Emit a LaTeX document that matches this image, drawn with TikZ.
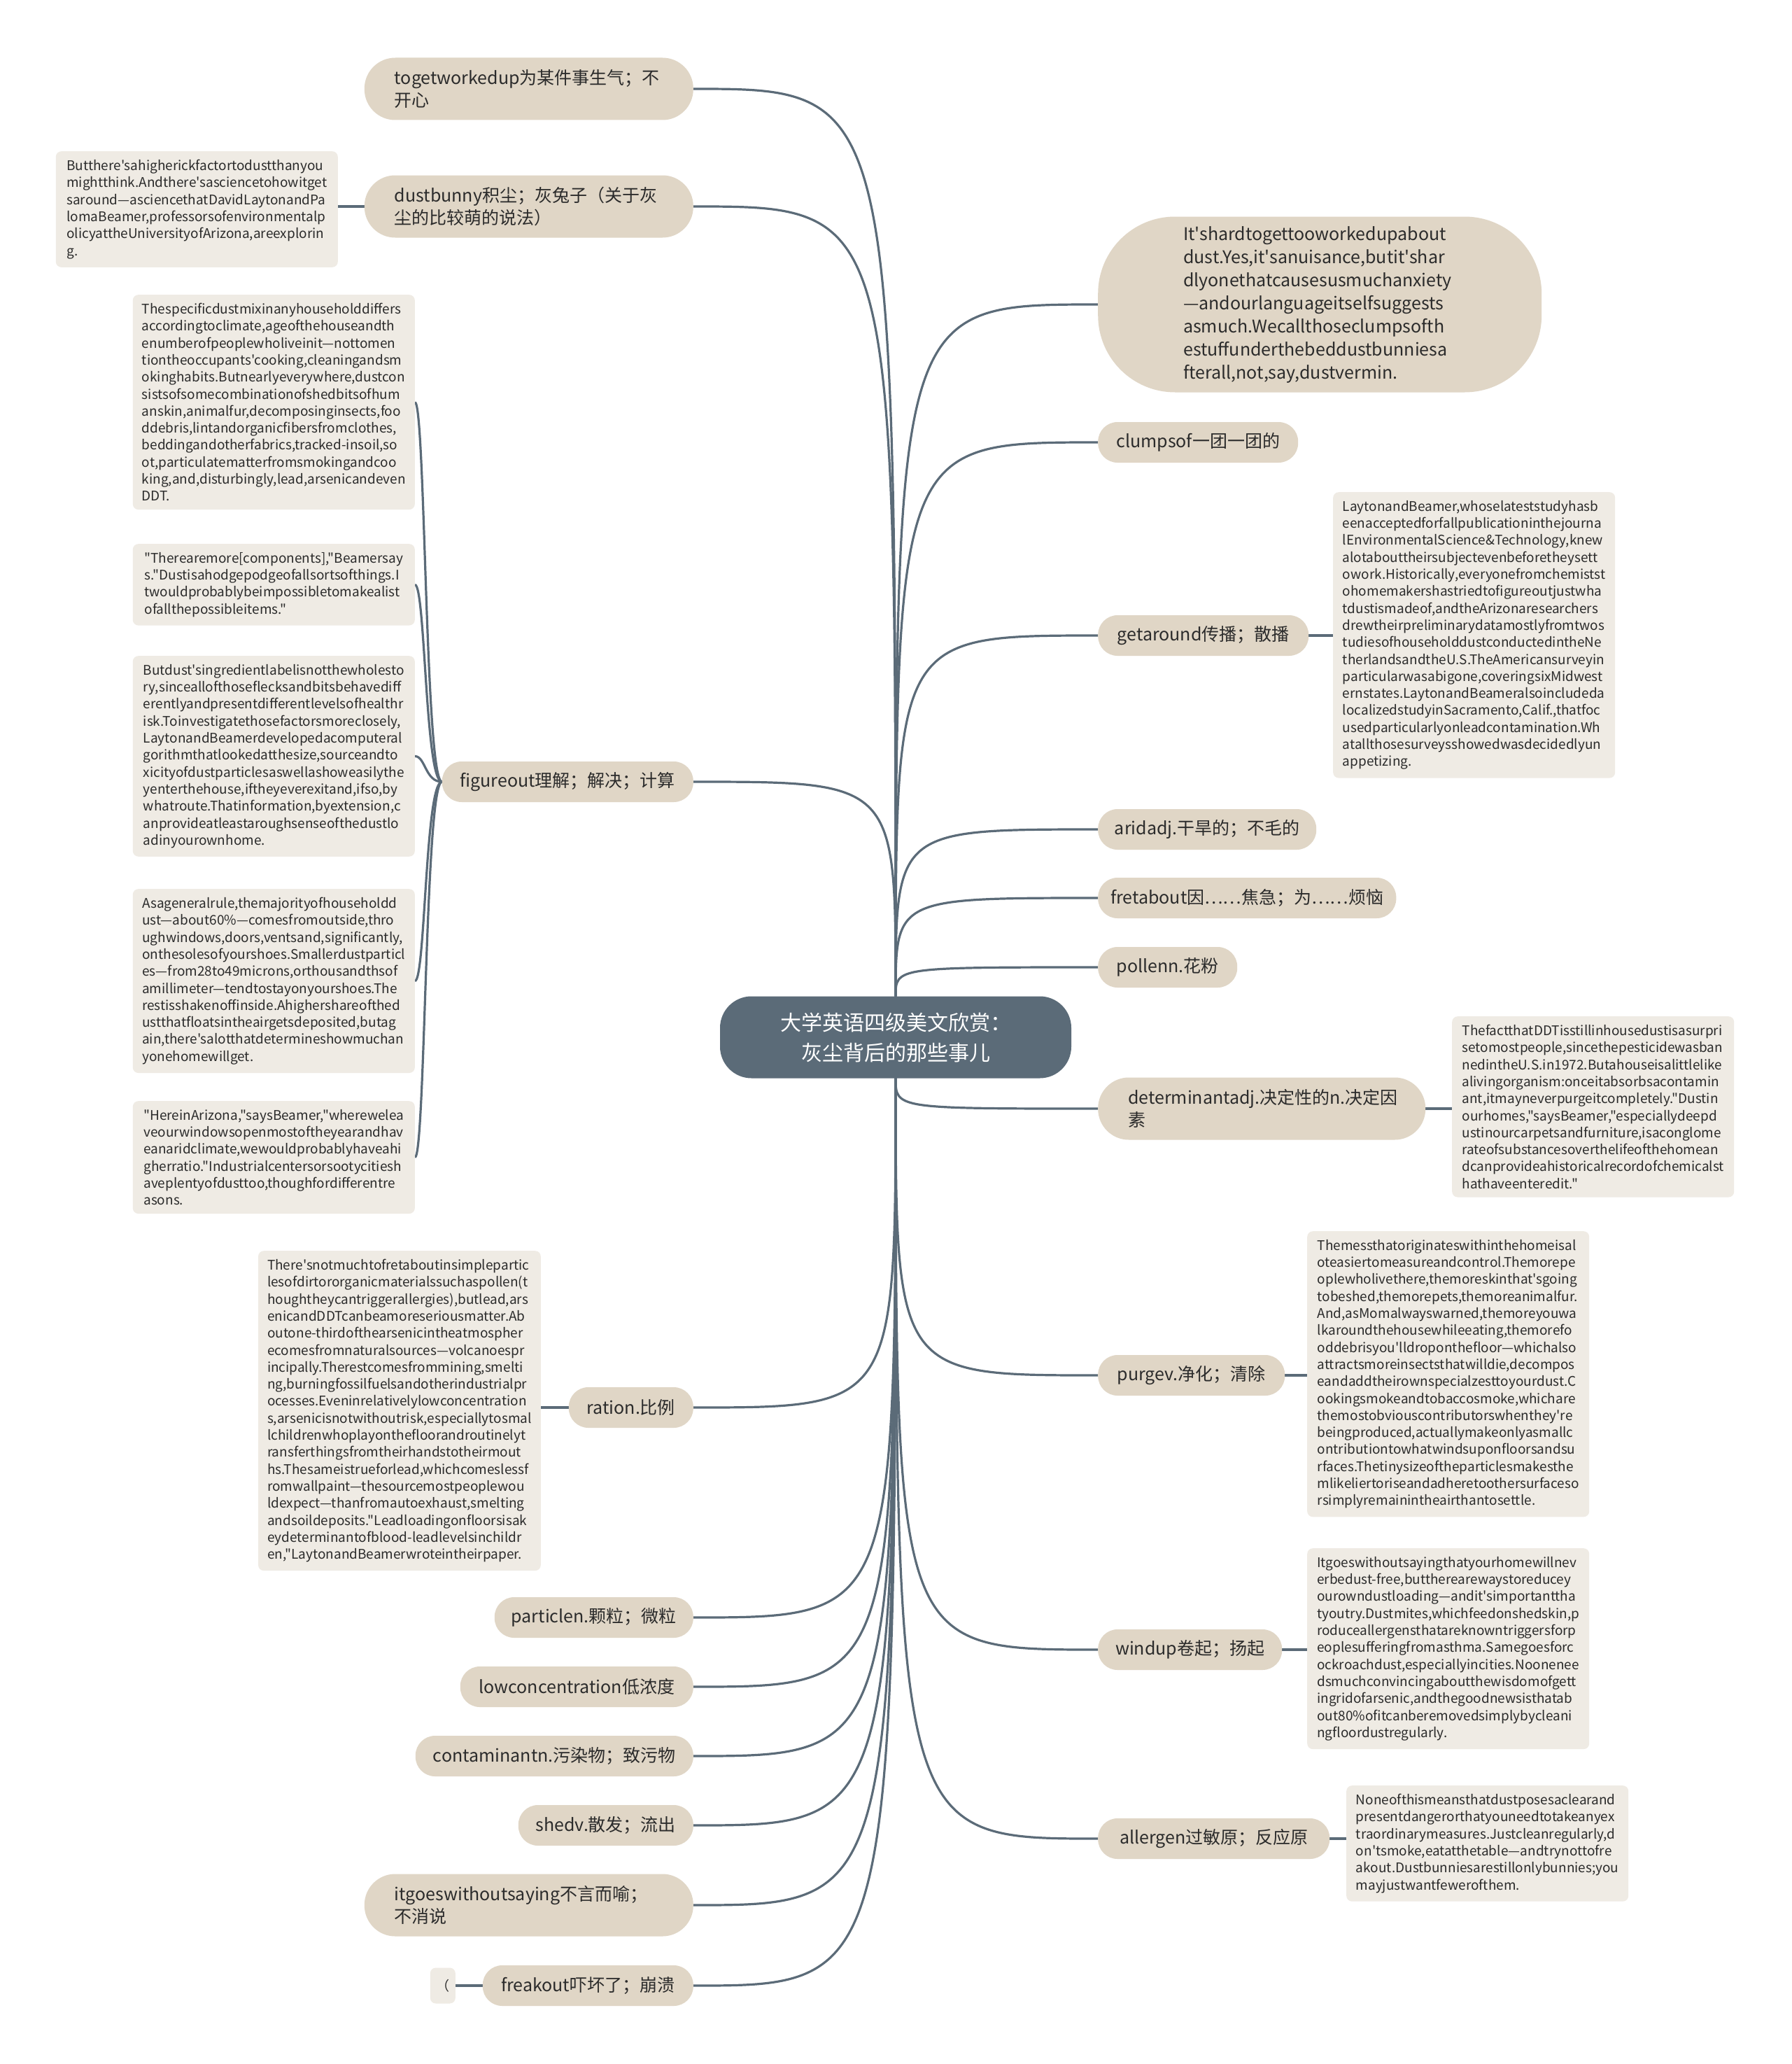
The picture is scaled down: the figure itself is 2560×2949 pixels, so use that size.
\documentclass[tikz,border=0pt]{standalone}
\usepackage{fontspec}
\setmainfont{Noto Sans CJK SC}[Ligatures=TeXOff]
\usetikzlibrary{calc,backgrounds}
\definecolor{rootc}{HTML}{5B6B78}
\definecolor{linec}{HTML}{5B6B78}
\definecolor{leafc}{HTML}{E0D6C6}
\definecolor{notec}{HTML}{EFEBE4}
\definecolor{txtc}{HTML}{2B2B2B}
\begin{document}
\begin{tikzpicture}[x=1pt,y=-1pt,
  rootnode/.style={fill=rootc, text=white, rounded corners=45pt, minimum width=502pt, minimum height=117pt, align=center, font=\fontsize{30}{43}\selectfont, inner sep=0pt},
  leaf/.style={fill=leafc, text=txtc, rounded corners=28pt, minimum height=58pt, inner xsep=18pt, inner ysep=0pt, font=\fontsize{25}{32}\selectfont},
  leaftwo/.style={fill=leafc, text=txtc, rounded corners=44pt, minimum height=89pt, inner xsep=43pt, inner ysep=0pt, align=left, text width=384pt, font=\fontsize{25}{32}\selectfont},
  note/.style={fill=notec, text=txtc, rounded corners=8pt, inner xsep=13pt, inner ysep=12pt, align=left, minimum width=403pt, font=\fontsize{19}{24.3}\selectfont},
  conn/.style={draw=linec, line width=3.2pt},
]
\useasboundingbox (0,0) rectangle (2560,2949);

% root
\node[rootnode] (root) at (1280,1482) {大学英语四级美文欣赏：\\灰尘背后的那些事儿};

% left branches
\node[leaftwo, anchor=east] (work) at (991,127) {togetworkedup为某件事生气；不\\开心};
\node[leaftwo, anchor=east] (bunny) at (991,295) {dustbunny积尘；灰兔子（关于灰\\尘的比较萌的说法）};
\node[leaf, minimum width=359pt, anchor=east] (fig) at (991,1117) {figureout理解；解决；计算};
\node[leaf, minimum width=178pt, anchor=east] (ration) at (991,2011) {ration.比例};
\node[leaf, minimum width=284pt, anchor=east] (particle) at (991,2311) {particlen.颗粒；微粒};
\node[leaf, minimum width=333pt, anchor=east] (lowc) at (991,2410) {lowconcentration低浓度};
\node[leaf, minimum width=397pt, anchor=east] (contam) at (991,2509) {contaminantn.污染物；致污物};
\node[leaf, minimum width=250pt, anchor=east] (shed) at (991,2608) {shedv.散发；流出};
\node[leaftwo, anchor=east] (itgoes) at (991,2722) {itgoeswithoutsaying不言而喻；\\不消说};
\node[leaf, minimum width=301pt, anchor=east] (freak) at (991,2837) {freakout吓坏了；崩溃};

% right branches
\node[leaftwo, rounded corners=110pt, text width=390pt, inner xsep=122pt, minimum height=251pt, anchor=west, font=\fontsize{25}{33}\selectfont] (hard) at (1569,435) {It'shardtogettooworkedupabout\\dust.Yes,it'sanuisance,butit'shar\\dlyonethatcausesusmuchanxiety\\—andourlanguageitselfsuggests\\asmuch.Wecallthoseclumpsofth\\estuffunderthebeddustbunniesa\\fterall,not,say,dustvermin.};
\node[leaf, minimum width=286pt, anchor=west] (clumps) at (1569,632) {clumpsof一团一团的};
\node[leaf, minimum width=301pt, anchor=west] (around) at (1569,908) {getaround传播；散播};
\node[leaf, minimum width=312pt, anchor=west] (arid) at (1569,1185) {aridadj.干旱的；不毛的};
\node[leaf, minimum width=417pt, anchor=west] (fret) at (1569,1283) {fretabout因……焦急；为……烦恼};
\node[leaf, minimum width=199pt, anchor=west] (pollen) at (1569,1382) {pollenn.花粉};
\node[leaftwo, text width=382pt, anchor=west] (determ) at (1569,1584) {determinantadj.决定性的n.决定因\\素};
\node[leaf, minimum width=267pt, anchor=west] (purge) at (1569,1965) {purgev.净化；清除};
\node[leaf, minimum width=263pt, anchor=west] (windup) at (1569,2357) {windup卷起；扬起};
\node[leaf, minimum width=331pt, anchor=west] (allergen) at (1569,2627) {allergen过敏原；反应原};

% notes left
\node[note, anchor=north east] (bunnynote) at (483,216) {Butthere'sahigherickfactortodustthanyou\\mightthink.Andthere'sasciencetohowitget\\saround—asciencethatDavidLaytonandPa\\lomaBeamer,professorsofenvironmentalp\\olicyattheUniversityofArizona,areexplorin\\g.};
\node[note, anchor=north east] (figa) at (593,421) {Thespecificdustmixinanyhouseholddiffers\\accordingtoclimate,ageofthehouseandth\\enumberofpeoplewholiveinit—nottomen\\tiontheoccupants'cooking,cleaningandsm\\okinghabits.Butnearlyeverywhere,dustcon\\sistsofsomecombinationofshedbitsofhum\\anskin,animalfur,decomposinginsects,foo\\ddebris,lintandorganicfibersfromclothes,\\beddingandotherfabrics,tracked-insoil,so\\ot,particulatematterfromsmokingandcoo\\king,and,disturbingly,lead,arsenicandeven\\DDT.};
\node[note, anchor=north east] (figb) at (593,777) {"Therearemore[components],"Beamersay\\s."Dustisahodgepodgeofallsortsofthings.I\\twouldprobablybeimpossibletomakealist\\ofallthepossibleitems."};
\node[note, anchor=north east] (figc) at (593,937) {Butdust'singredientlabelisnotthewholesto\\ry,sinceallofthoseflecksandbitsbehavediff\\erentlyandpresentdifferentlevelsofhealthr\\isk.Toinvestigatethosefactorsmoreclosely,\\LaytonandBeamerdevelopedacomputeral\\gorithmthatlookedatthesize,sourceandto\\xicityofdustparticlesaswellashoweasilythe\\yenterthehouse,iftheyeverexitand,ifso,by\\whatroute.Thatinformation,byextension,c\\anprovideatleastaroughsenseofthedustlo\\adinyourownhome.};
\node[note, anchor=north east] (figd) at (593,1270) {Asageneralrule,themajorityofhouseholdd\\ust—about60\%—comesfromoutside,thro\\ughwindows,doors,ventsand,significantly,\\onthesolesofyourshoes.Smallerdustparticl\\es—from28to49microns,orthousandthsof\\amillimeter—tendtostayonyourshoes.The\\restisshakenoffinside.Ahighershareofthed\\ustthatfloatsintheairgetsdeposited,butag\\ain,there'salotthatdetermineshowmuchan\\yonehomewillget.};
\node[note, anchor=north east] (fige) at (593,1573) {"HereinArizona,"saysBeamer,"wherewelea\\veourwindowsopenmostoftheyearandhav\\eanaridclimate,wewouldprobablyhaveahi\\gherratio."Industrialcentersorsootycitiesh\\aveplentyofdusttoo,thoughfordifferentre\\asons.};
\node[note, anchor=north east] (rationnote) at (773,1787) {There'snotmuchtofretaboutinsimplepartic\\lesofdirtororganicmaterialssuchaspollen(t\\houghtheycantriggerallergies),butlead,ars\\enicandDDTcanbeamoreseriousmatter.Ab\\outone-thirdofthearsenicintheatmospher\\ecomesfromnaturalsources—volcanoespr\\incipally.Therestcomesfrommining,smelti\\ng,burningfossilfuelsandotherindustrialpr\\ocesses.Eveninrelativelylowconcentration\\s,arsenicisnotwithoutrisk,especiallytosmal\\lchildrenwhoplayonthefloorandroutinelyt\\ransferthingsfromtheirhandstotheirmout\\hs.Thesameistrueforlead,whichcomeslessf\\romwallpaint—thesourcemostpeoplewou\\ldexpect—thanfromautoexhaust,smelting\\andsoildeposits."Leadloadingonfloorsisak\\eydeterminantofblood-leadlevelsinchildr\\en,"LaytonandBeamerwroteintheirpaper.};
\node[note, minimum width=36pt, inner xsep=8pt, minimum height=51pt, anchor=east] (freaknote) at (651,2837) {（};

% notes right
\node[note, anchor=north west] (aroundnote) at (1905,703) {LaytonandBeamer,whoselateststudyhasb\\eenacceptedforfallpublicationinthejourna\\lEnvironmentalScience\&Technology,knew\\alotabouttheirsubjectevenbeforetheysett\\owork.Historically,everyonefromchemistst\\ohomemakershastriedtofigureoutjustwha\\tdustismadeof,andtheArizonaresearchers\\drewtheirpreliminarydatamostlyfromtwos\\tudiesofhouseholddustconductedintheNe\\therlandsandtheU.S.TheAmericansurveyin\\particularwasabigone,coveringsixMidwest\\ernstates.LaytonandBeameralsoincludeda\\localizedstudyinSacramento,Calif.,thatfoc\\usedparticularlyonleadcontamination.Wh\\atallthosesurveysshowedwasdecidedlyun\\appetizing.};
\node[note, anchor=north west] (determnote) at (2075,1452) {ThefactthatDDTisstillinhousedustisasurpri\\setomostpeople,sincethepesticidewasban\\nedintheU.S.in1972.Butahouseisalittlelike\\alivingorganism:onceitabsorbsacontamin\\ant,itmayneverpurgeitcompletely."Dustin\\ourhomes,"saysBeamer,"especiallydeepd\\ustinourcarpetsandfurniture,isaconglome\\rateofsubstancesoverthelifeofthehomean\\dcanprovideahistoricalrecordofchemicalst\\hathaveenteredit."};
\node[note, anchor=north west] (purgenote) at (1868,1759) {Themessthatoriginateswithinthehomeisal\\oteasiertomeasureandcontrol.Themorepe\\oplewholivethere,themoreskinthat'sgoing\\tobeshed,themorepets,themoreanimalfur.\\And,asMomalwayswarned,themoreyouwa\\lkaroundthehousewhileeating,themorefo\\oddebrisyou'lldroponthefloor—whichalso\\attractsmoreinsectsthatwilldie,decompos\\eandaddtheirownspecialzesttoyourdust.C\\ookingsmokeandtobaccosmoke,whichare\\themostobviouscontributorswhenthey're\\beingproduced,actuallymakeonlyasmallc\\ontributiontowhatwindsuponfloorsandsu\\rfaces.Thetinysizeoftheparticlesmakesthe\\mlikeliertoriseandadheretoothersurfaceso\\rsimplyremainintheairthantosettle.};
\node[note, anchor=north west] (windupnote) at (1868,2212) {Itgoeswithoutsayingthatyourhomewillnev\\erbedust-free,buttherearewaystoreducey\\ourowndustloading—andit'simportanttha\\tyoutry.Dustmites,whichfeedonshedskin,p\\roduceallergensthatareknowntriggersforp\\eoplesufferingfromasthma.Samegoesforc\\ockroachdust,especiallyincities.Noonenee\\dsmuchconvincingaboutthewisdomofgett\\ingridofarsenic,andthegoodnewsisthatab\\out80\%ofitcanberemovedsimplybycleani\\ngfloordustregularly.};
\node[note, anchor=north west] (allergennote) at (1924,2551) {Noneofthismeansthatdustposesaclearand\\presentdangerorthatyouneedtotakeanyex\\traordinarymeasures.Justcleanregularly,d\\on'tsmoke,eatatthetable—andtrynottofre\\akout.Dustbunniesarestillonlybunnies;you\\mayjustwantfewerofthem.};

\begin{scope}[on background layer]
\fill[white] (0,0) rectangle (2560,2949);
\foreach \n in {work,bunny,fig}{
  \draw[conn] (root.north) .. controls (root.north |- \n.east) and (root.north |- \n.east) .. (\n.east);
}
\foreach \n in {ration,particle,lowc,contam,shed,itgoes,freak}{
  \draw[conn] (root.south) .. controls (root.south |- \n.east) and (root.south |- \n.east) .. (\n.east);
}
\foreach \n in {hard,clumps,around,arid,fret,pollen}{
  \draw[conn] (root.north) .. controls (root.north |- \n.west) and (root.north |- \n.west) .. (\n.west);
}
\foreach \n in {determ,purge,windup,allergen}{
  \draw[conn] (root.south) .. controls (root.south |- \n.west) and (root.south |- \n.west) .. (\n.west);
}
\draw[conn] (bunny.west) -- (bunny.west -| bunnynote.east);
\draw[conn] (ration.west) -- (ration.west -| rationnote.east);
\draw[conn] (freak.west) -- (freaknote.east);
\foreach \n in {figa,figb,figc,figd,fige}{
  \draw[conn] (fig.west) .. controls ($(fig.west)+(-24,0)$) and ($(\n.east)+(15,0)$) .. (\n.east);
}
\draw[conn] (around.east) -- (around.east -| aroundnote.west);
\draw[conn] (determ.east) -- (determ.east -| determnote.west);
\draw[conn] (purge.east) -- (purge.east -| purgenote.west);
\draw[conn] (windup.east) -- (windup.east -| windupnote.west);
\draw[conn] (allergen.east) -- (allergen.east -| allergennote.west);
\end{scope}
\end{tikzpicture}
\end{document}
